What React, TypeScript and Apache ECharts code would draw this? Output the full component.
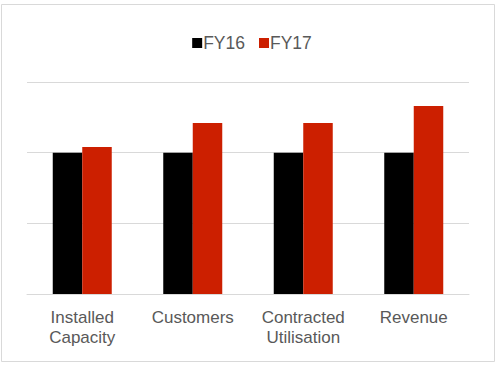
import React, { useEffect, useRef } from "react";
import * as echarts from "echarts";

const categories = ["Installed\nCapacity", "Customers", "Contracted\nUtilisation", "Revenue"];
const fy16 = [100, 100, 100, 100];
const fy17 = [104, 121, 121, 133];
const seriesNames = ["FY16", "FY17"];

export default function App() {
  const ref = useRef<HTMLDivElement>(null);
  useEffect(() => {
    const chart = echarts.init(ref.current!, null, { renderer: "svg" });
    const font = "Liberation Sans, Arial, sans-serif";
    chart.setOption({
      animation: false,
      backgroundColor: "#ffffff",
      graphic: [
        {
          type: "rect",
          shape: { x: 1.5, y: 4.5, width: 493, height: 357 },
          style: { fill: "none", stroke: "#d9d9d9", lineWidth: 1 },
          silent: true,
        },
      ],
      legend: {
        top: 29,
        left: "center",
        itemWidth: 10,
        itemHeight: 10,
        itemGap: 14,
        icon: "rect",
        data: seriesNames,
        textStyle: { fontFamily: font, fontSize: 17.5, color: "#595959", padding: [0, 0, 0, -4] },
      },
      grid: { left: 27, right: 35, top: 82, bottom: 74, containLabel: false },
      xAxis: {
        type: "category",
        data: categories,
        axisLine: { show: true, lineStyle: { color: "#d9d9d9", width: 1 } },
        axisTick: { show: false },
        axisLabel: {
          interval: 0,
          fontFamily: font,
          fontSize: 17,
          lineHeight: 20,
          color: "#595959",
          margin: 13,
        },
      },
      yAxis: {
        type: "value",
        min: 0,
        max: 150,
        interval: 50,
        axisLabel: { show: false },
        axisLine: { show: false },
        axisTick: { show: false },
        splitLine: { lineStyle: { color: "#d9d9d9", width: 1 } },
      },
      series: [
        {
          name: seriesNames[0],
          type: "bar",
          data: fy16,
          barWidth: 29.5,
          barGap: "0%",
          itemStyle: { color: "#000000" },
        },
        {
          name: seriesNames[1],
          type: "bar",
          data: fy17,
          barWidth: 29.5,
          barGap: "0%",
          itemStyle: { color: "#cc1f00" },
        },
      ],
    });
    return () => chart.dispose();
  }, []);
  return (
    <div
      ref={ref}
      style={{ position: "fixed", left: 0, top: 0, width: 504, height: 368 }}
    />
  );
}
